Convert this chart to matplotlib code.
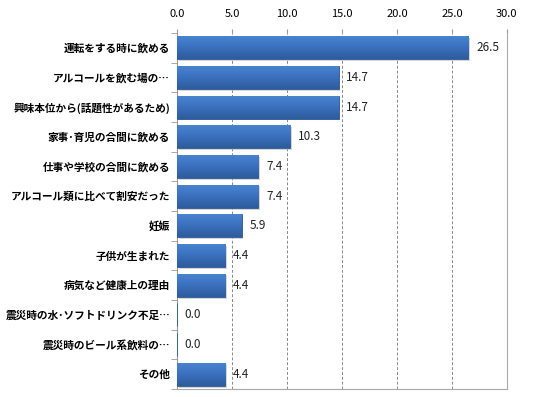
import matplotlib
matplotlib.use("Agg")
import matplotlib.pyplot as plt
import numpy as np
from matplotlib.ticker import FixedLocator
from matplotlib.colors import LinearSegmentedColormap

plt.rcParams['font.family'] = ['Noto Sans CJK JP', 'DejaVu Sans']

categories = ["運転をする時に飲める", "アルコールを飲む場の…", "興味本位から(話題性があるため)",
              "家事･育児の合間に飲める", "仕事や学校の合間に飲める", "アルコール類に比べて割安だった",
              "妊娠", "子供が生まれた", "病気など健康上の理由",
              "震災時の水･ソフトドリンク不足…", "震災時のビール系飲料の…", "その他"]
values = [26.5, 14.7, 14.7, 10.3, 7.4, 7.4, 5.9, 4.4, 4.4, 0.0, 0.0, 4.4]
xticks = [0, 5, 10, 15, 20, 25, 30]

fig = plt.figure(figsize=(5.33, 3.97), dpi=100)
ax = fig.add_axes([0.332, 0.020, 0.619, 0.897])
n = len(categories)
y = np.arange(n)
h = 0.78
bars = ax.barh(y, values, height=h, color='#3B70BE', edgecolor='#2D5A9A', linewidth=0.6, zorder=3)
cmap = LinearSegmentedColormap.from_list('g', ['#4A86D2', '#3B70BE', '#2E5C9C'])
grad = np.linspace(0, 1, 64).reshape(-1, 1)
for b in bars:
    w = b.get_width()
    if w <= 0:
        continue
    y0 = b.get_y()
    ax.barh(y0 + h / 2 + 0.06, w, height=h, left=0.15, color='#bbbbbb', alpha=0.6, zorder=2, linewidth=0)
    im = ax.imshow(grad, extent=[0, w, y0 + h, y0], aspect='auto', cmap=cmap, zorder=3.5)
    im.set_clip_path(b)
for yi, v in zip(y, values):
    ax.text(v + 0.7, yi, f"{v:.1f}", va='center', ha='left', fontsize=8.5, color='#222222', zorder=4)

ax.set_ylim(n - 0.5, -0.5)
ax.set_xlim(0, 30)
ax.set_yticks(y)
ax.set_yticklabels(categories, fontsize=7.7, fontweight='bold')
ax.tick_params(axis='y', length=0, pad=5)
ax.yaxis.set_minor_locator(FixedLocator(np.arange(-0.5, n, 1)))
ax.tick_params(axis='y', which='minor', length=4, color='#999999', direction='out')
ax.xaxis.tick_top()
ax.set_xticks(xticks)
ax.set_xticklabels([f"{t:.1f}" for t in xticks], fontsize=8)
ax.tick_params(axis='x', length=3, color='#999999', pad=7)
ax.grid(axis='x', linestyle=(0, (3, 2)), color='#888888', linewidth=0.7, zorder=0)
for s in ['left', 'right', 'bottom', 'top']:
    ax.spines[s].set_color('#aaaaaa')
ax.spines['top'].set_visible(False)
ax.spines['left'].set_color('#999999')
fig.savefig('out.png', dpi=100)
